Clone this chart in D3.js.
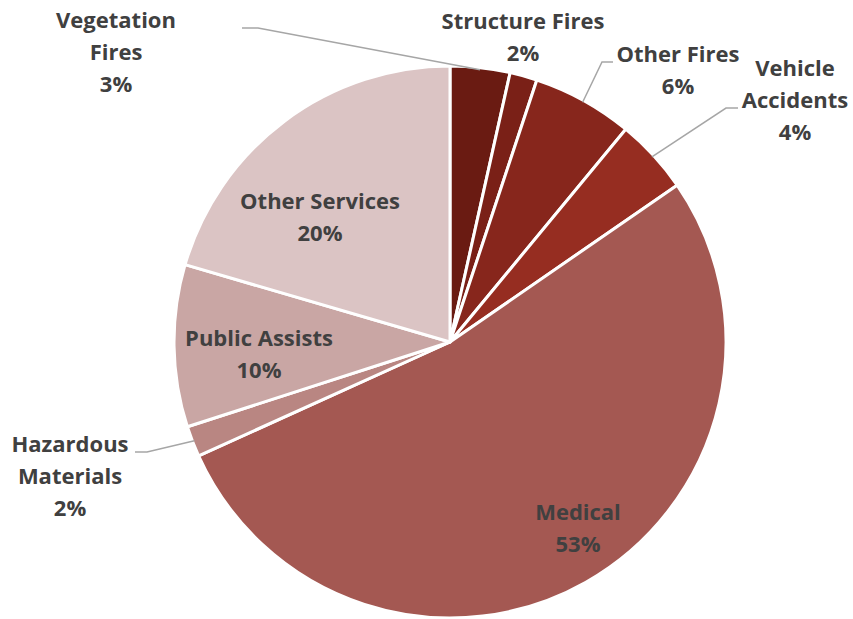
<!DOCTYPE html>
<html>
<head>
<meta charset="utf-8">
<script src="https://cdn.jsdelivr.net/npm/d3@7"></script>
<style>
  body { margin: 0; background: #fff; }
  text { font-family: "Open Sans", "Noto Sans", sans-serif; font-weight: bold; fill: #404040; }
</style>
</head>
<body>
<div id="vis"></div>
<script>
var width = 853, height = 619;

const categories = ["Vegetation Fires", "Structure Fires", "Other Fires", "Vehicle Accidents",
    "Medical", "Hazardous Materials", "Public Assists", "Other Services"];
const values = [3.5, 1.6, 5.9, 4.4, 52.9, 1.8, 9.5, 20.5];
const pctLabels = ["3%", "2%", "6%", "4%", "53%", "2%", "10%", "20%"];
const nameLines = [["Vegetation", "Fires"], ["Structure Fires"], ["Other Fires"], ["Vehicle", "Accidents"],
    ["Medical"], ["Hazardous", "Materials"], ["Public Assists"], ["Other Services"]];

const colors = ["#6a1b12", "#7a2017", "#87261c", "#962d21", "#a45852", "#b98682", "#c9a6a4", "#dbc4c4"];

// label placement: text center x, first-line y, optional leader line points
const labelPos = [
    { x: 116, y: 20, leader: [[242, 28], [258, 28]] },
    { x: 523, y: 21 },
    { x: 678, y: 54, leader: [[613, 62], [602, 62]] },
    { x: 795, y: 68, leader: [[738, 108], [726, 108]] },
    { x: 578, y: 512 },
    { x: 70, y: 444, leader: [[135, 452], [147, 452]] },
    { x: 259, y: 338 },
    { x: 320, y: 201 }
];

const cx = 450, cy = 342, radius = 276;

const svg = d3.select("#vis").append("svg")
    .attr("width", width)
    .attr("height", height);

const g = svg.append("g").attr("transform", `translate(${cx}, ${cy})`);

const pie = d3.pie().sort(null).value(d => d);
const arcs = pie(values);
const arc = d3.arc().innerRadius(0).outerRadius(radius);
const edge = d3.arc().innerRadius(radius - 2).outerRadius(radius - 2);

g.selectAll("path")
    .data(arcs)
    .join("path")
    .attr("d", arc)
    .attr("fill", (d, i) => colors[i])
    .attr("stroke", "white")
    .attr("stroke-width", 3)
    .attr("stroke-linejoin", "round");

// leader lines
arcs.forEach((d, i) => {
    const lp = labelPos[i];
    if (!lp.leader) return;
    const c = edge.centroid(d);
    const pts = lp.leader.concat([[c[0] + cx, c[1] + cy]]);
    svg.append("path")
        .attr("d", d3.line()(pts))
        .attr("fill", "none")
        .attr("stroke", "#a6a6a6")
        .attr("stroke-width", 1.5);
});

// labels
const lineH = 32;
categories.forEach((name, i) => {
    const lp = labelPos[i];
    const t = svg.append("text")
        .attr("text-anchor", "middle")
        .style("font-size", "22px");
    const lines = nameLines[i].concat([pctLabels[i]]);
    lines.forEach((ln, j) => {
        t.append("tspan")
            .attr("x", lp.x)
            .attr("y", lp.y + j * lineH)
            .attr("dy", "0.35em")
            .text(ln);
    });
});
</script>
</body>
</html>
